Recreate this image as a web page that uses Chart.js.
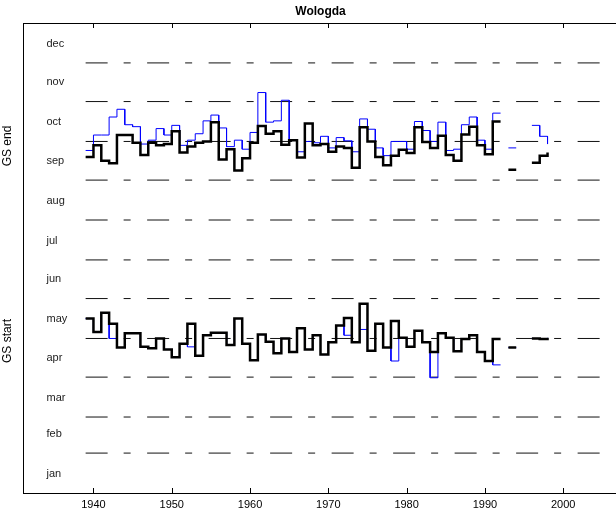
<!DOCTYPE html>
<html>
<head>
<meta charset="utf-8">
<script src="https://cdn.jsdelivr.net/npm/chart.js@4/dist/chart.umd.min.js"></script>
<style>
  html, body { margin: 0; padding: 0; background: #fff; overflow: hidden; }
  canvas { display: block; }
</style>
</head>
<body>
<canvas id="gsChart" width="622" height="513"></canvas>
<script>
// Wologda growing season start / end (day of year), stairs per year
const years = [1939, 1940, 1941, 1942, 1943, 1944, 1945, 1946, 1947, 1948,
  1949, 1950, 1951, 1952, 1953, 1954, 1955, 1956, 1957, 1958,
  1959, 1960, 1961, 1962, 1963, 1964, 1965, 1966, 1967, 1968,
  1969, 1970, 1971, 1972, 1973, 1974, 1975, 1976, 1977, 1978,
  1979, 1980, 1981, 1982, 1983, 1984, 1985, 1986, 1987, 1988,
  1989, 1990, 1991, 1992, 1993, 1994, 1995, 1996, 1997, 1998];

// GS end, thick black
const gsEndBlack = [261, 270, 258, 256, 278, 278, 272, 262.5, 272, 270,
  271, 281, 264.5, 269, 272, 273, 288, 259, 267, 250.5,
  260, 272, 285, 279, 281, 270.5, 274, 260.5, 287, 270,
  271, 265, 269, 268, 252.5, 284, 273, 261, 254.5, 262,
  266.5, 264, 284, 272.5, 268, 277.5, 262.5, 258, 278.5, 284.5,
  270, 263, 288.5, null, 251, null, null, 256.5, 262, 264.5];

// GS end, thin blue
const gsEndBlue = [266, 278, 278, 292, 298, 286, 284.5, 271, 274, 283,
  278, 285.5, 270, 274, 279, 289, 293.5, 283.5, 269, 274,
  267, 280, 311, 288, 289, 305, 274, 265, 273, 272,
  277, 268, 276, 273.5, 265, 290.5, 282.5, 268, 262, 273,
  273, 267, 288.5, 281.5, 273, 288, 266, 267, 286, 292,
  274, 267, 295, null, 268, null, null, 285.5, 277, 271];

// GS start, thick black
const gsStartBlack = [135.5, 125, 140, 131.5, 113, 124, 124, 113.5, 112.5, 120,
  111.5, 105.5, 116, 131.5, 106.5, 122.5, 124.5, 124.5, 115, 135.5,
  116, 103, 123, 117.5, 108.5, 120, 109.5, 128, 111.5, 122.5,
  107.5, 117, 130, 136, 117, 147, 110.5, 131.5, 113, 133.5,
  120.5, 113.5, 126, 117, 109.5, 124, 120.5, 110, 119.5, 122.5,
  109.5, 102.5, 119.5, null, 113, null, null, 120, 119.5, 120.5];

// GS start, thin blue
const gsStartBlue = [135.5, 125, 140, 120, 113, 124, 124, 113.5, 112.5, 120,
  111.5, 105.5, 116, 113.5, 106.5, 122.5, 124.5, 124.5, 115, 135.5,
  116, 103, 123, 117.5, 108.5, 120, 109.5, 128, 111.5, 122.5,
  107.5, 117, 130, 122.5, 117, 127, 110.5, 131.5, 113, 102.5,
  120.5, 113.5, 126, 117, 89.5, 124, 120.5, 110, 119.5, 122.5,
  109.5, 102.5, 99.5, null, 113, null, null, 120, 119.5, 120.5];

// month boundaries (day of year) and labels
const monthNames = ['jan', 'feb', 'mar', 'apr', 'may', 'jun', 'jul', 'aug', 'sep', 'oct', 'nov', 'dec'];
const monthStarts = [0, 31, 59, 90, 120, 151, 181, 212, 243, 273, 304, 334];
const xTicks = [1940, 1950, 1960, 1970, 1980, 1990, 2000];
const guideYears = [1939, 2005];

// matlab-style stairs: horizontal at v[i] from year i to year i+1
function stairs(xs, vs) {
  const pts = [];
  for (let i = 0; i < xs.length; i++) {
    pts.push({ x: xs[i], y: vs[i] });
    if (i < xs.length - 1) pts.push({ x: xs[i + 1], y: vs[i] });
  }
  return pts;
}

const FONT = "'Liberation Sans', Arial, sans-serif";

const datasets = [];
function addStairs(vals, color, width, order) {
  datasets.push({
    data: stairs(years, vals),
    borderColor: color,
    borderWidth: width,
    pointRadius: 0,
    spanGaps: false,
    borderJoinStyle: 'miter',
    borderCapStyle: 'butt',
    order: order
  });
}
addStairs(gsEndBlack, '#000000', 2.5, 0);
addStairs(gsStartBlack, '#000000', 2.5, 0);
addStairs(gsEndBlue, '#0000ff', 1, 1);
addStairs(gsStartBlue, '#0000ff', 1, 1);

// dashed month boundary lines
monthStarts.slice(1).forEach(function(d) {
  datasets.push({
    data: guideYears.map(function(y) { return { x: y, y: d }; }),
    borderColor: '#111',
    borderWidth: 1,
    borderDash: [22, 16, 7, 16.5],
    pointRadius: 0,
    order: 2
  });
});

const frame = {
  id: 'frame',
  afterDraw(chart) {
    const ctx = chart.ctx;
    const a = chart.chartArea;
    const xs = chart.scales.x;
    const ys = chart.scales.y;
    ctx.save();
    ctx.strokeStyle = '#000';
    ctx.lineWidth = 1;
    ctx.strokeRect(Math.round(a.left) + 0.5, Math.round(a.top) + 0.5,
      Math.round(a.right - a.left), Math.round(a.bottom - a.top));
    // inward ticks top & bottom
    xTicks.forEach(function(v) {
      const px = Math.round(xs.getPixelForValue(v)) + 0.5;
      ctx.beginPath();
      ctx.moveTo(px, a.top); ctx.lineTo(px, a.top + 5);
      ctx.moveTo(px, a.bottom); ctx.lineTo(px, a.bottom - 5);
      ctx.stroke();
    });
    // month names
    ctx.fillStyle = '#222';
    ctx.font = '11px ' + FONT;
    ctx.textAlign = 'left';
    ctx.textBaseline = 'middle';
    monthNames.forEach(function(m, i) {
      ctx.fillText(m, xs.getPixelForValue(1934), ys.getPixelForValue(monthStarts[i] + 15));
    });
    // title
    ctx.fillStyle = '#000';
    ctx.font = 'bold 12px ' + FONT;
    ctx.textAlign = 'center';
    ctx.fillText('Wologda', (a.left + a.right) / 2, 11.5);
    // side labels
    ctx.font = '12px ' + FONT;
    [['GS end', 146], ['GS start', 341]].forEach(function(l) {
      ctx.save();
      ctx.translate(8, l[1]);
      ctx.rotate(-Math.PI / 2);
      ctx.fillText(l[0], 0, 0);
      ctx.restore();
    });
    ctx.restore();
  }
};

new Chart(document.getElementById('gsChart').getContext('2d'), {
  type: 'line',
  data: { datasets: datasets },
  options: {
    responsive: false,
    animation: false,
    layout: { padding: { left: 23, top: 23, right: 4, bottom: 0 } },
    plugins: { legend: { display: false }, tooltip: { enabled: false }, title: { display: false } },
    scales: {
      x: {
        type: 'linear',
        min: 1931,
        max: 2007,
        grid: { display: false, drawTicks: false },
        border: { display: false },
        ticks: {
          color: '#000',
          font: { size: 11, family: FONT },
          padding: 5,
          maxRotation: 0,
          callback: function(v) { return String(v); }
        },
        afterBuildTicks: function(s) { s.ticks = xTicks.map(function(v) { return { value: v }; }); },
        afterFit: function(s) { s.height = 20; }
      },
      y: {
        type: 'linear',
        display: false,
        min: 0,
        max: 365
      }
    }
  },
  plugins: [frame]
});
</script>
</body>
</html>
